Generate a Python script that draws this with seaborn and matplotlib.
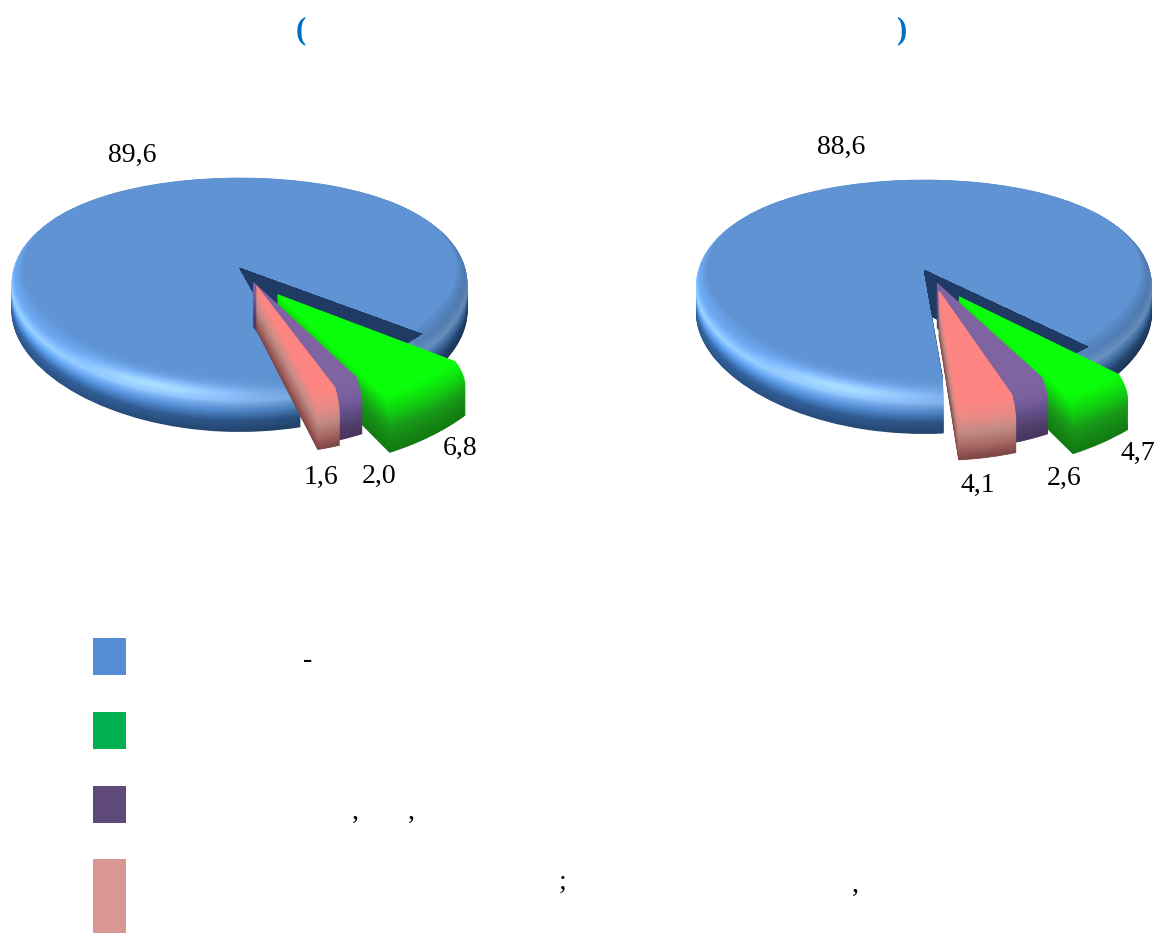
import numpy as np
import matplotlib
matplotlib.use("Agg")
import matplotlib.pyplot as plt
from matplotlib.patches import Rectangle
import seaborn as sns

### values
values_left = [89.6, 6.8, 2.0, 1.6]
values_right = [88.6, 4.7, 2.6, 4.1]
legend_colors = ["#548dd4", "#00b050", "#5f497a", "#d99694"]

W, H = 1160, 933
N_LAYERS = 50
K = 0.09  # fake perspective: the near side of the pie looks bigger

sns.set_theme(style="white")
plt.rcParams["font.family"] = ["Liberation Serif", "DejaVu Serif"]

fig = plt.figure(figsize=(W / 100, H / 100), dpi=100)
fig.patch.set_facecolor("white")

# colours from the bottom of the rim up to the top face
blue_rim = sns.blend_palette(["#24456f", "#2c5486", "#4f86c8", "#82b2ea", "#5f93d3", "#5f93d3"], n_colors=N_LAYERS)
green_rim = sns.blend_palette(["#127a12", "#158a15", "#18a018", "#10d010", "#0aff0a"], n_colors=N_LAYERS)
purple_rim = sns.blend_palette(["#4a3560", "#54406e", "#64508a", "#7a5f9e", "#8064a2"], n_colors=N_LAYERS)
pink_rim = sns.blend_palette(["#7d4444", "#a96a66", "#c08a85", "#e88a85", "#ff8582"], n_colors=N_LAYERS)
SLICE_SCALE = [1.03, 1.0, 1.0]


def warp(y):
    return y - K * y ** 2


def unwarp(v):
    return (1 - np.sqrt(np.maximum(1 - 4 * K * v, 0))) / (2 * K)


def rim_radius(t):
    # rounded top edge, the rim narrows a little near the top face
    if t < 0.6:
        return 1.0
    return 1.0 - 0.05 * ((t - 0.6) / 0.4) ** 2


def draw_pie(values, cx, cy, rx, ry, gap_start, nudge, depth):
    ax = fig.add_axes([0, 0, 1, 1], facecolor="none")
    start = gap_start + 360 * values[0] / sum(values)

    # the gap, used to keep the dark inner wall out of the rest of the pie
    gap_wedges, _ = ax.pie([values[0], sum(values[1:])], startangle=start, counterclock=False)
    gap_wedges[0].set_visible(False)
    gap_wedges[1].set_visible(False)

    for i in range(N_LAYERS):
        t = i / (N_LAYERS - 1)
        off = -depth * (1 - t)
        r = rim_radius(t)
        colors = [blue_rim[i], green_rim[i], purple_rim[i], pink_rim[i]]
        wedges, _ = ax.pie(values, center=(0, off), radius=r, startangle=start,
                           counterclock=False, colors=colors)
        wedges[0].set_zorder(1.5)
        wedges[0].set_facecolor("#1f3a63")
        wedges[0].set_linewidth(0)
        wedges[0].set_clip_on(True)
        wedges[0].set_clip_path(gap_wedges[1])
        for z, w in enumerate(wedges[1:]):
            w.set_zorder(2 + z)
            w.set_edgecolor(colors[z + 1])
            w.set_linewidth(0.6)
            # slices are pulled out of the pie
            w.set_center((w.center[0] + nudge[z][0], w.center[1] + nudge[z][1]))
            w.set_radius(r * SLICE_SCALE[z])

        # blue part gets light from the left
        xs = np.linspace(-1.05, 1.05, 60)
        ys = np.linspace(-1.05, 1.05, 60)
        gx, gy = np.meshgrid(xs, ys)
        shade = 1 - 0.22 * gx * (1 - t ** 6)
        img = np.clip(np.array(blue_rim[i])[None, None, :] * shade[:, :, None], 0, 1)
        if t < 0.98:
            glow = np.exp(-((gx + 0.35) / 0.45) ** 2) * np.exp(-((gy + 0.95) / 0.25) ** 2)
            img = np.clip(img + 0.22 * (glow * np.exp(-((t - 0.75) / 0.12) ** 2))[:, :, None], 0, 1)
        im = ax.imshow(img, extent=(-1.05, 1.05, -1.05 + off, 1.05 + off), origin="lower",
                       aspect="auto", interpolation="bilinear", zorder=1)
        # hidden outline of the blue wedge of this layer
        outline, _ = ax.pie(values, center=(0, off), radius=r, startangle=start, counterclock=False)
        for w in outline:
            w.set_visible(False)
        im.set_clip_path(outline[0])

    ax.set_aspect("auto")
    ax.set_yscale("function", functions=(warp, unwarp))
    ax.set_xlim(-cx / rx, (W - cx) / rx)
    ax.set_ylim(unwarp(-(H - cy) / ry), unwarp(cy / ry))
    ax.axis("off")
    return ax


draw_pie(values_left, 239.5, 268, 228, 104, -37,
         [(0.167, -0.25), (0.06, -0.135), (0.075, -0.17)], 0.40)
draw_pie(values_right, 924, 270, 228, 104, -44,
         [(0.153, -0.25), (0.057, -0.125), (0.066, -0.2)], 0.40)

# overlay in pixel coordinates for texts and legend keys
over = fig.add_axes([0, 0, 1, 1], facecolor="none")
over.set_xlim(0, W)
over.set_ylim(H, 0)
over.axis("off")


def fmt(v):
    return f"{v:.1f}".replace(".", ",")


label_size = 20
for v, (x, y) in zip(values_left, [(132, 155), (460, 448), (379, 476), (321, 477)]):
    over.text(x, y, fmt(v), ha="center", va="center", fontsize=label_size, color="black")
for v, (x, y) in zip(values_right, [(841, 147), (1138, 453), (1064, 478), (978, 485)]):
    over.text(x, y, fmt(v), ha="center", va="center", fontsize=label_size, color="black")

over.text(301, 31, "(", ha="center", va="center", fontsize=22, fontweight="bold", color="#0070c0")
over.text(902, 31, ")", ha="center", va="center", fontsize=22, fontweight="bold", color="#0070c0")

for c, (y0, y1) in zip(legend_colors, [(638, 675), (712, 749), (786, 823), (859, 933)]):
    over.add_patch(Rectangle((93, y0), 33, y1 - y0, facecolor=c, edgecolor="none"))

for s, x, y in [("-", 308, 660), (",", 355, 812), (",", 411, 812), (";", 562, 882), (",", 855, 885)]:
    over.text(x, y, s, ha="center", va="center", fontsize=label_size, color="black")

fig.savefig("out.png", dpi=100)
